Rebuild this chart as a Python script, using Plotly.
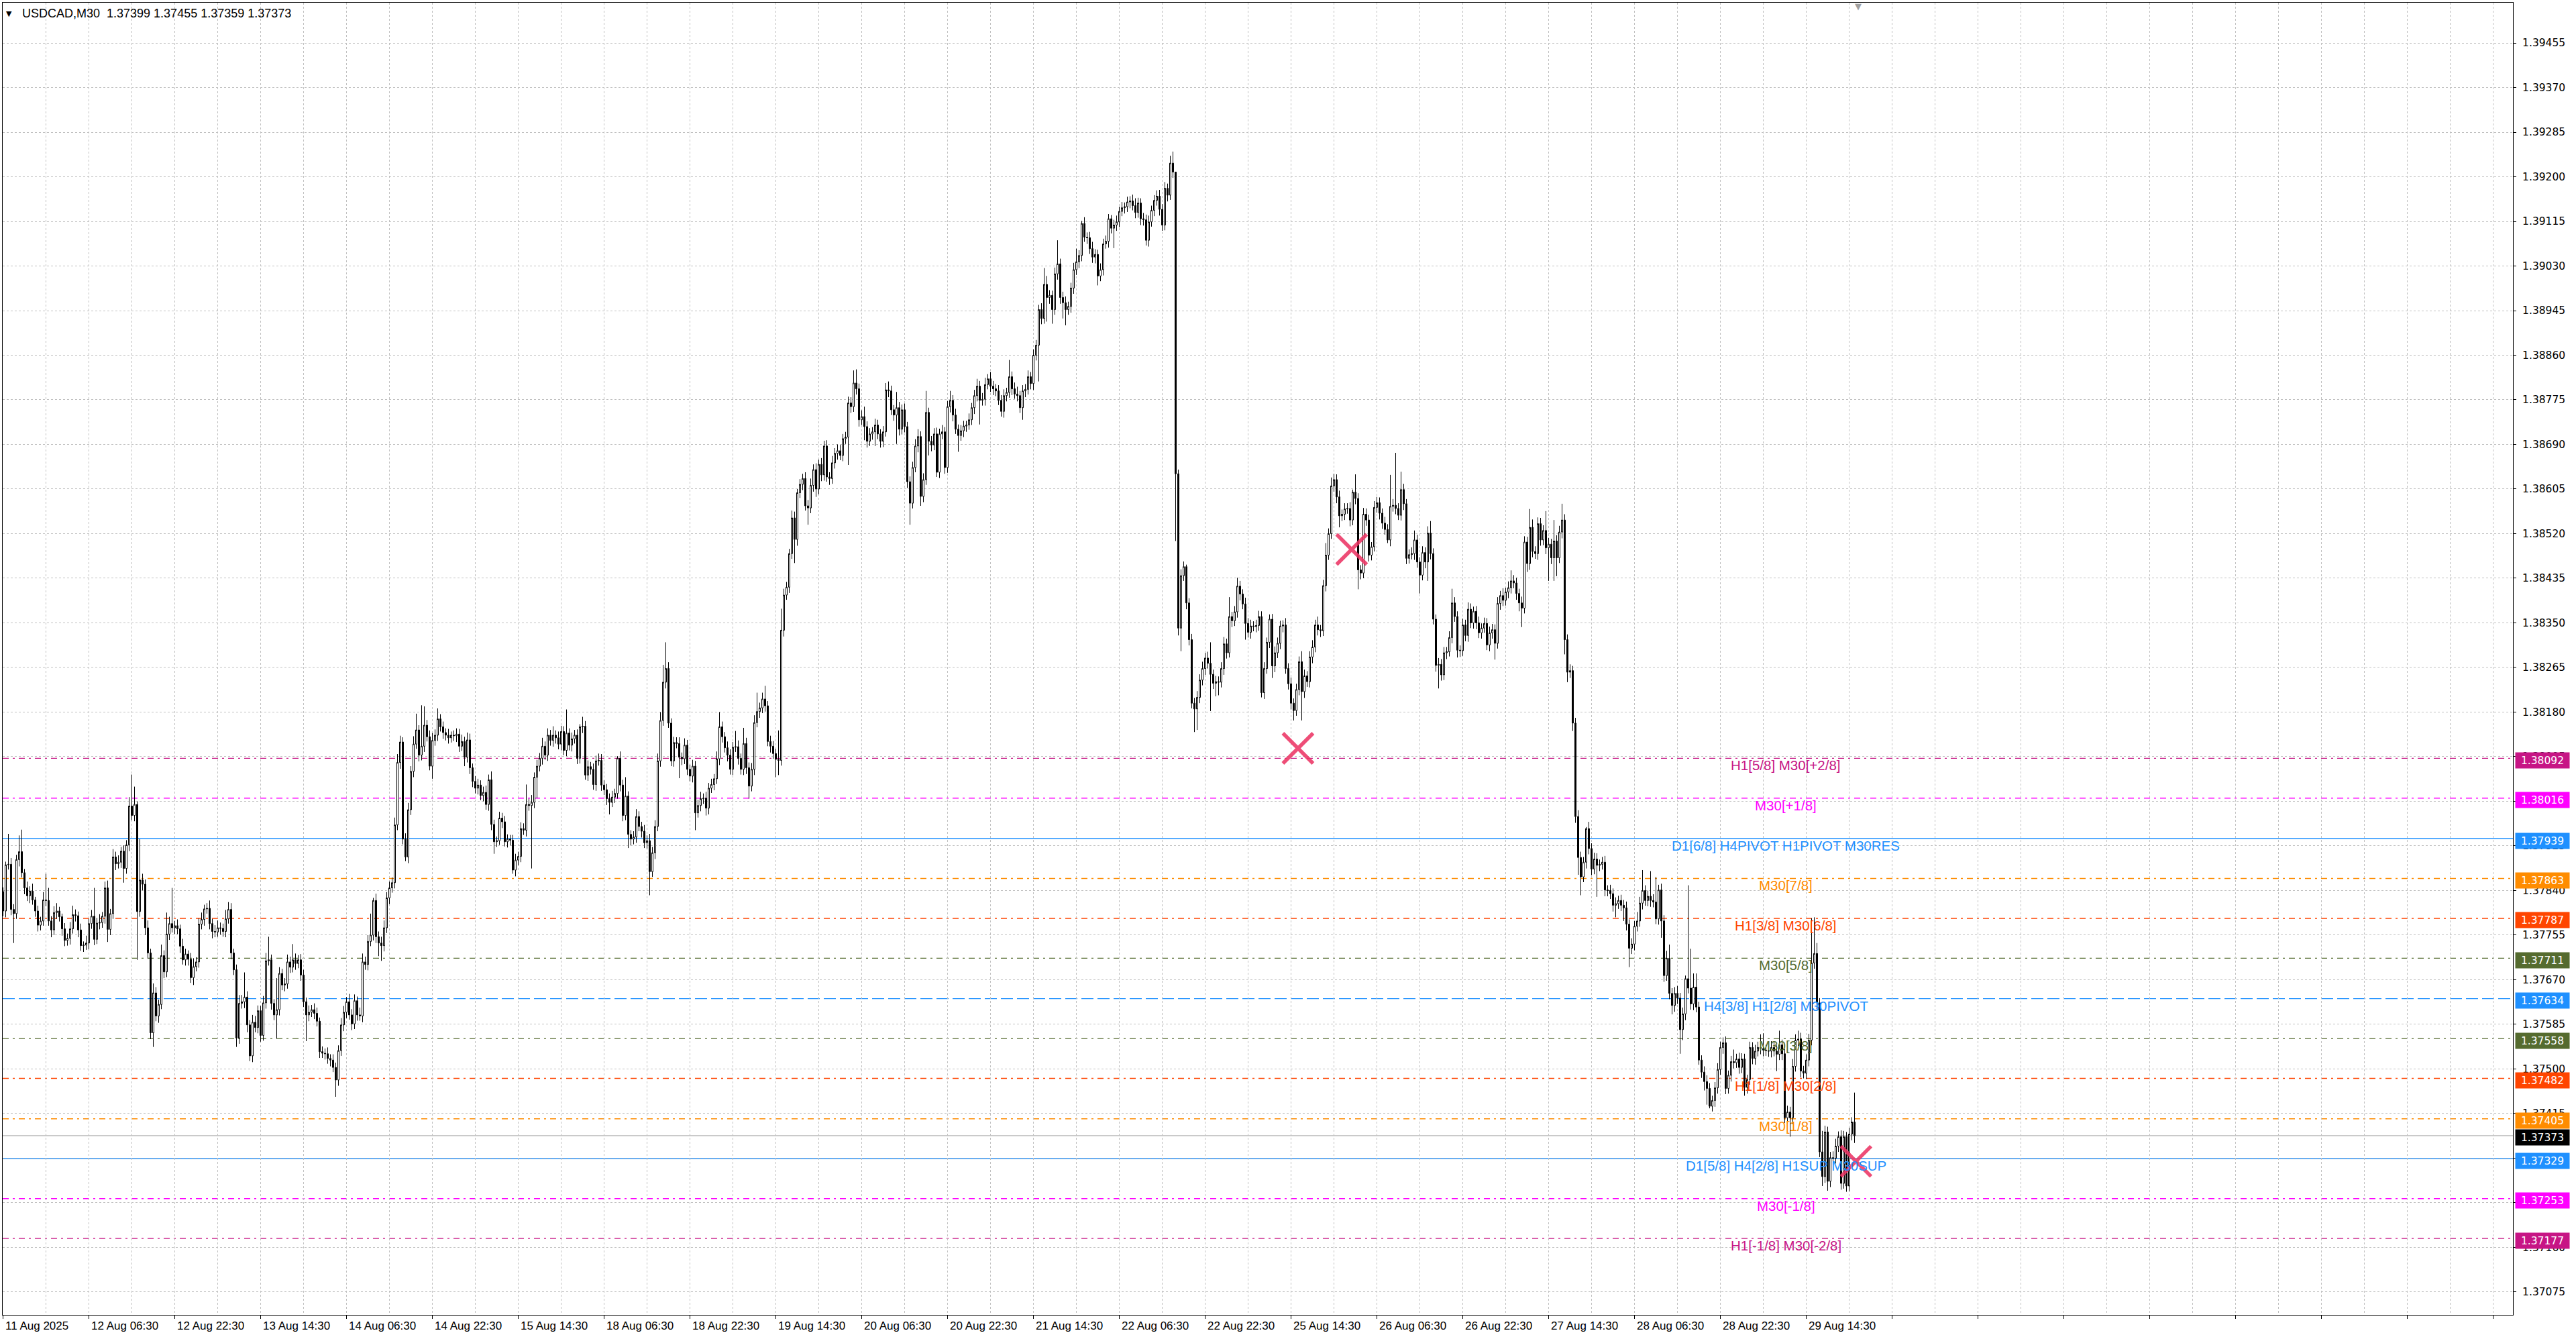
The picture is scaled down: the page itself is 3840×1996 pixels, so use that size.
import plotly.graph_objects as go

# ---------------- data ----------------
first_open = 1.37838

closes = [
    1.37801, 1.37889, 1.37890, 1.37804, 1.37796, 1.37899, 1.37914, 1.37874, 1.37845, 1.37830, 1.37839, 1.37822, 1.37801, 1.37774, 1.37782, 1.37822,
    1.37821, 1.37782, 1.37765, 1.37798, 1.37801, 1.37790, 1.37767, 1.37745, 1.37749, 1.37767, 1.37794, 1.37792, 1.37765, 1.37735, 1.37736, 1.37740,
    1.37777, 1.37791, 1.37747, 1.37778, 1.37779, 1.37791, 1.37845, 1.37766, 1.37796, 1.37904, 1.37891, 1.37894, 1.37915, 1.37882, 1.37927, 1.38001,
    1.37983, 1.38004, 1.37800, 1.37860, 1.37852, 1.37769, 1.37721, 1.37569, 1.37645, 1.37601, 1.37623, 1.37716, 1.37685, 1.37757, 1.37777, 1.37769,
    1.37773, 1.37767, 1.37734, 1.37708, 1.37719, 1.37709, 1.37674, 1.37695, 1.37704, 1.37776, 1.37785, 1.37805, 1.37806, 1.37777, 1.37762, 1.37761,
    1.37769, 1.37768, 1.37762, 1.37786, 1.37804, 1.37721, 1.37689, 1.37559, 1.37625, 1.37628, 1.37637, 1.37584, 1.37525, 1.37589, 1.37579, 1.37611,
    1.37564, 1.37626, 1.37706, 1.37708, 1.37625, 1.37603, 1.37613, 1.37682, 1.37660, 1.37662, 1.37704, 1.37694, 1.37708, 1.37701, 1.37708, 1.37679,
    1.37628, 1.37603, 1.37608, 1.37613, 1.37606, 1.37591, 1.37533, 1.37530, 1.37529, 1.37520, 1.37517, 1.37503, 1.37479, 1.37535, 1.37584, 1.37608,
    1.37628, 1.37603, 1.37586, 1.37630, 1.37603, 1.37601, 1.37704, 1.37699, 1.37743, 1.37755, 1.37821, 1.37752, 1.37740, 1.37735, 1.37769, 1.37826,
    1.37845, 1.37855, 1.37965, 1.38084, 1.38123, 1.37938, 1.37904, 1.37994, 1.38067, 1.38119, 1.38146, 1.38098, 1.38115, 1.38155, 1.38133, 1.38077,
    1.38126, 1.38136, 1.38167, 1.38152, 1.38141, 1.38136, 1.38131, 1.38136, 1.38135, 1.38138, 1.38115, 1.38124, 1.38094, 1.38127, 1.38074, 1.38048,
    1.38035, 1.38041, 1.38021, 1.38027, 1.38004, 1.38051, 1.37966, 1.37933, 1.37935, 1.37978, 1.37971, 1.37933, 1.37938, 1.37936, 1.37879, 1.37898,
    1.37905, 1.37958, 1.37955, 1.38004, 1.38002, 1.38008, 1.38056, 1.38077, 1.38092, 1.38115, 1.38098, 1.38136, 1.38126, 1.38136, 1.38131, 1.38119,
    1.38143, 1.38107, 1.38140, 1.38117, 1.38129, 1.38136, 1.38092, 1.38152, 1.38153, 1.38060, 1.38076, 1.38071, 1.38042, 1.38087, 1.38088, 1.38041,
    1.38032, 1.38015, 1.38008, 1.38018, 1.38025, 1.38092, 1.38041, 1.37983, 1.38020, 1.37947, 1.37938, 1.37942, 1.37981, 1.37962, 1.37953, 1.37931,
    1.37935, 1.37876, 1.37912, 1.37962, 1.38087, 1.38164, 1.38237, 1.38263, 1.38159, 1.38087, 1.38122, 1.38120, 1.38094, 1.38091, 1.38117, 1.38071,
    1.38058, 1.38077, 1.37988, 1.38002, 1.38015, 1.38016, 1.37997, 1.38035, 1.38042, 1.38053, 1.38091, 1.38152, 1.38133, 1.38112, 1.38098, 1.38071,
    1.38113, 1.38114, 1.38092, 1.38071, 1.38120, 1.38074, 1.38039, 1.38071, 1.38160, 1.38181, 1.38188, 1.38205, 1.38192, 1.38124, 1.38115, 1.38101,
    1.38090, 1.38088, 1.38336, 1.38403, 1.38418, 1.38482, 1.38550, 1.38509, 1.38598, 1.38614, 1.38625, 1.38573, 1.38569, 1.38612, 1.38642, 1.38605,
    1.38652, 1.38632, 1.38687, 1.38628, 1.38625, 1.38655, 1.38673, 1.38678, 1.38669, 1.38701, 1.38704, 1.38769, 1.38762, 1.38807, 1.38796, 1.38737,
    1.38743, 1.38724, 1.38696, 1.38710, 1.38714, 1.38727, 1.38710, 1.38696, 1.38714, 1.38794, 1.38792, 1.38756, 1.38746, 1.38760, 1.38719, 1.38756,
    1.38724, 1.38619, 1.38578, 1.38646, 1.38687, 1.38705, 1.38591, 1.38623, 1.38751, 1.38696, 1.38689, 1.38710, 1.38637, 1.38710, 1.38714, 1.38646,
    1.38762, 1.38774, 1.38746, 1.38719, 1.38707, 1.38716, 1.38725, 1.38727, 1.38737, 1.38760, 1.38783, 1.38801, 1.38774, 1.38776, 1.38804, 1.38815,
    1.38801, 1.38796, 1.38792, 1.38774, 1.38753, 1.38783, 1.38789, 1.38819, 1.38796, 1.38786, 1.38783, 1.38760, 1.38792, 1.38795, 1.38819, 1.38806,
    1.38860, 1.38879, 1.38947, 1.38930, 1.38995, 1.38970, 1.38974, 1.38947, 1.39015, 1.39034, 1.38970, 1.38960, 1.38947, 1.38953, 1.38988, 1.39023,
    1.39038, 1.39050, 1.39111, 1.39085, 1.39084, 1.39063, 1.39047, 1.39052, 1.39011, 1.39023, 1.39072, 1.39077, 1.39120, 1.39102, 1.39108, 1.39114,
    1.39134, 1.39141, 1.39143, 1.39152, 1.39154, 1.39145, 1.39132, 1.39150, 1.39120, 1.39118, 1.39079, 1.39114, 1.39136, 1.39155, 1.39163, 1.39138,
    1.39108, 1.39178, 1.39165, 1.39226, 1.39209, 1.38634, 1.38340, 1.38440, 1.38457, 1.38388, 1.38318, 1.38197, 1.38186, 1.38208, 1.38241, 1.38263,
    1.38283, 1.38273, 1.38252, 1.38235, 1.38238, 1.38237, 1.38263, 1.38310, 1.38293, 1.38362, 1.38354, 1.38371, 1.38420, 1.38405, 1.38386, 1.38349,
    1.38332, 1.38344, 1.38343, 1.38345, 1.38362, 1.38217, 1.38263, 1.38313, 1.38357, 1.38268, 1.38293, 1.38311, 1.38344, 1.38346, 1.38263, 1.38234,
    1.38197, 1.38183, 1.38223, 1.38276, 1.38219, 1.38249, 1.38238, 1.38285, 1.38304, 1.38346, 1.38337, 1.38335, 1.38421, 1.38479, 1.38520, 1.38611,
    1.38623, 1.38590, 1.38554, 1.38557, 1.38567, 1.38568, 1.38546, 1.38599, 1.38587, 1.38451, 1.38445, 1.38557, 1.38546, 1.38479, 1.38495, 1.38570,
    1.38579, 1.38559, 1.38540, 1.38528, 1.38508, 1.38572, 1.38574, 1.38568, 1.38555, 1.38604, 1.38577, 1.38473, 1.38480, 1.38482, 1.38508, 1.38466,
    1.38441, 1.38484, 1.38466, 1.38521, 1.38482, 1.38357, 1.38269, 1.38271, 1.38251, 1.38293, 1.38295, 1.38322, 1.38388, 1.38362, 1.38298, 1.38297,
    1.38346, 1.38326, 1.38376, 1.38350, 1.38372, 1.38350, 1.38331, 1.38340, 1.38349, 1.38308, 1.38331, 1.38337, 1.38311, 1.38387, 1.38402, 1.38393,
    1.38409, 1.38417, 1.38430, 1.38426, 1.38406, 1.38388, 1.38378, 1.38504, 1.38463, 1.38532, 1.38486, 1.38482, 1.38539, 1.38508, 1.38526, 1.38493,
    1.38500, 1.38474, 1.38506, 1.38474, 1.38523, 1.38546, 1.38318, 1.38256, 1.38259, 1.38159, 1.37981, 1.37903, 1.37866, 1.37894, 1.37958, 1.37920,
    1.37881, 1.37900, 1.37888, 1.37890, 1.37894, 1.37841, 1.37840, 1.37834, 1.37812, 1.37815, 1.37821, 1.37812, 1.37807, 1.37776, 1.37730, 1.37738,
    1.37772, 1.37782, 1.37816, 1.37840, 1.37821, 1.37829, 1.37821, 1.37818, 1.37786, 1.37841, 1.37782, 1.37678, 1.37711, 1.37644, 1.37621, 1.37644,
    1.37635, 1.37575, 1.37605, 1.37672, 1.37654, 1.37624, 1.37656, 1.37618, 1.37517, 1.37494, 1.37476, 1.37463, 1.37429, 1.37440, 1.37464, 1.37499,
    1.37541, 1.37550, 1.37463, 1.37488, 1.37514, 1.37512, 1.37519, 1.37503, 1.37519, 1.37465, 1.37480, 1.37541, 1.37520, 1.37534, 1.37541, 1.37539,
    1.37536, 1.37535, 1.37534, 1.37541, 1.37534, 1.37528, 1.37546, 1.37529, 1.37407, 1.37418, 1.37407, 1.37505, 1.37555, 1.37557, 1.37496, 1.37492,
    1.37517, 1.37555, 1.37702, 1.37720, 1.37626, 1.37342, 1.37295, 1.37380, 1.37286, 1.37331, 1.37330, 1.37353, 1.37371, 1.37282, 1.37371, 1.37277,
    1.37376, 1.37399, 1.37373,
]

# wick lengths read per bar, in points (0.00001)
upper_wick_pts = [
    8, 6, 58, 12, 10, 9, 31, 42, 7, 12, 9, 14, 6, 10, 8, 15,
    50, 24, 9, 12, 15, 8, 6, 11, 9, 13, 17, 10, 8, 12, 7, 14,
    9, 12, 54, 10, 16, 8, 12, 14, 9, 15, 10, 13, 8, 11, 9, 17,
    60, 34, 6, 78, 12, 9, 14, 8, 18, 11, 9, 21, 10, 41, 13, 68,
    9, 12, 8, 14, 10, 7, 12, 16, 9, 11, 13, 8, 10, 15, 9, 12,
    14, 10, 9, 17, 14, 12, 8, 10, 16, 13, 47, 11, 9, 14, 12, 10,
    9, 13, 15, 44, 10, 8, 60, 12, 9, 11, 14, 10, 30, 12, 9, 11,
    10, 8, 13, 9, 12, 11, 7, 10, 9, 12, 8, 11, 9, 10, 13, 12,
    9, 15, 11, 12, 8, 14, 16, 10, 12, 41, 5, 13, 10, 12, 14, 11,
    12, 10, 14, 16, 12, 9, 11, 13, 10, 15, 31, 9, 78, 36, 10, 12,
    14, 11, 20, 9, 10, 8, 12, 7, 9, 11, 10, 13, 9, 14, 12, 8,
    10, 12, 9, 11, 13, 10, 16, 9, 8, 12, 10, 11, 9, 8, 10, 12,
    9, 12, 10, 38, 11, 14, 9, 12, 10, 16, 9, 13, 10, 17, 9, 12,
    11, 10, 45, 9, 12, 10, 11, 5, 18, 10, 12, 9, 11, 10, 13, 12,
    9, 11, 10, 12, 9, 4, 13, 10, 36, 9, 8, 11, 14, 10, 9, 12,
    10, 13, 11, 12, 14, 16, 33, 50, 12, 9, 11, 10, 12, 9, 13, 10,
    9, 12, 10, 11, 13, 9, 12, 10, 11, 9, 14, 28, 10, 9, 12, 11,
    10, 30, 12, 9, 30, 11, 10, 12, 14, 36, 10, 12, 25, 9, 11, 10,
    9, 55, 41, 12, 10, 9, 14, 12, 7, 10, 9, 12, 11, 13, 10, 12,
    9, 12, 10, 11, 9, 13, 10, 12, 11, 9, 10, 12, 11, 24, 26, 10,
    12, 19, 10, 11, 9, 12, 10, 9, 11, 13, 16, 10, 9, 30, 11, 10,
    12, 9, 10, 11, 13, 14, 10, 12, 41, 9, 10, 11, 12, 10, 13, 9,
    11, 18, 10, 12, 9, 11, 10, 8, 12, 9, 11, 14, 10, 12, 13, 9,
    13, 10, 9, 11, 10, 12, 9, 32, 10, 12, 14, 9, 11, 10, 12, 9,
    11, 10, 9, 12, 31, 16, 10, 9, 12, 45, 10, 11, 12, 9, 10, 13,
    25, 10, 5, 12, 9, 11, 13, 10, 9, 12, 10, 11, 9, 7, 10, 12,
    9, 11, 8, 10, 9, 12, 14, 10, 9, 11, 10, 12, 9, 10, 11, 12,
    10, 12, 9, 14, 22, 0, 8, 12, 10, 4, 9, 11, 10, 12, 11, 13,
    10, 12, 40, 9, 11, 10, 12, 13, 10, 37, 9, 11, 16, 10, 9, 12,
    10, 12, 9, 11, 11, 10, 12, 9, 9, 10, 12, 11, 10, 9, 13, 10,
    12, 9, 11, 10, 20, 12, 9, 11, 13, 10, 16, 9, 11, 23, 10, 16,
    11, 10, 12, 9, 11, 10, 12, 5, 34, 10, 9, 12, 11, 10, 9, 12,
    11, 10, 9, 12, 10, 60, 12, 100, 10, 34, 11, 9, 10, 12, 18, 10,
    9, 12, 10, 13, 23, 10, 9, 12, 10, 11, 9, 12, 27, 11, 10, 9,
    12, 10, 13, 11, 9, 10, 12, 9, 11, 10, 12, 11, 10, 12, 9, 14,
    8, 12, 20, 11, 10, 9, 12, 11, 10, 35, 15, 10, 12, 11, 10, 37,
    12, 10, 40, 11, 12, 31, 11, 10, 12, 9, 10, 12, 11, 10, 3, 13,
    10, 12, 11, 9, 10, 12, 9, 11, 10, 12, 9, 11, 10, 12, 9, 11,
    10, 17, 12, 39, 10, 11, 48, 12, 48, 10, 12, 11, 14, 26, 10, 12,
    14, 10, 12, 6, 178, 75, 26, 26, 10, 9, 11, 12, 10, 9, 11, 12,
    11, 10, 12, 9, 11, 23, 10, 12, 11, 10, 9, 11, 10, 12, 11, 25,
    29, 10, 9, 12, 10, 11, 27, 10, 9, 12, 10, 14, 11, 16, 12, 10,
    11, 12, 85, 69, 20, 9, 40, 12, 10, 11, 12, 14, 10, 12, 11, 9,
    12, 9, 56,
]

lower_wick_pts = [
    10, 12, 9, 11, 56, 10, 13, 9, 12, 10, 14, 9, 11, 12, 10, 9,
    11, 9, 14, 10, 12, 9, 13, 11, 10, 12, 9, 11, 14, 10, 12, 9,
    12, 10, 11, 9, 12, 10, 14, 24, 11, 10, 12, 9, 11, 27, 10, 12,
    9, 11, 92, 10, 12, 14, 11, 12, 27, 10, 13, 9, 12, 10, 11, 9,
    12, 10, 13, 9, 11, 12, 10, 14, 9, 11, 10, 12, 9, 11, 13, 10,
    9, 12, 10, 11, 9, 12, 10, 17, 11, 10, 12, 14, 10, 12, 9, 11,
    12, 10, 11, 9, 12, 10, 45, 11, 10, 12, 9, 11, 10, 12, 9, 11,
    10, 50, 12, 9, 11, 10, 12, 9, 11, 10, 12, 9, 32, 11, 10, 12,
    11, 9, 12, 10, 11, 9, 12, 10, 11, 9, 10, 12, 25, 29, 11, 10,
    12, 9, 11, 10, 12, 10, 8, 12, 10, 11, 9, 12, 10, 11, 9, 8,
    24, 10, 11, 9, 12, 10, 11, 9, 10, 12, 11, 9, 17, 10, 12, 11,
    10, 12, 9, 11, 10, 12, 11, 23, 10, 8, 12, 9, 11, 10, 7, 12,
    10, 11, 9, 12, 10, 120, 11, 40, 10, 12, 9, 11, 10, 12, 11, 10,
    12, 9, 11, 10, 12, 9, 11, 10, 12, 9, 11, 10, 10, 12, 9, 11,
    10, 12, 23, 9, 11, 10, 12, 11, 9, 26, 12, 10, 11, 9, 12, 10,
    11, 45, 10, 12, 9, 11, 10, 12, 9, 10, 11, 9, 40, 12, 10, 11,
    10, 12, 33, 9, 11, 10, 14, 12, 9, 11, 10, 12, 11, 9, 12, 10,
    11, 9, 12, 10, 11, 12, 24, 10, 11, 9, 12, 10, 11, 9, 12, 10,
    34, 28, 10, 12, 9, 11, 10, 45, 12, 10, 11, 9, 32, 10, 12, 15,
    10, 12, 11, 9, 12, 10, 11, 12, 9, 11, 10, 53, 12, 10, 11, 13,
    10, 26, 12, 9, 11, 27, 10, 12, 11, 9, 12, 10, 11, 55, 12, 10,
    11, 12, 41, 10, 9, 12, 18, 11, 10, 27, 12, 10, 9, 11, 10, 12,
    10, 11, 12, 9, 31, 10, 12, 11, 9, 10, 12, 11, 46, 10, 12, 9,
    11, 12, 10, 9, 10, 12, 11, 10, 12, 9, 11, 10, 23, 12, 10, 11,
    12, 10, 69, 11, 10, 46, 12, 27, 10, 11, 12, 30, 30, 10, 12, 11,
    10, 12, 11, 9, 12, 10, 11, 12, 18, 10, 11, 9, 12, 10, 38, 11,
    10, 9, 11, 10, 12, 9, 11, 10, 12, 11, 10, 12, 9, 11, 10, 12,
    11, 10, 12, 9, 11, 128, 14, 44, 10, 12, 11, 10, 44, 40, 11, 10,
    12, 10, 70, 11, 25, 25, 10, 12, 11, 9, 12, 10, 11, 12, 10, 31,
    10, 12, 9, 11, 10, 9, 12, 10, 11, 23, 12, 10, 11, 12, 10, 11,
    12, 19, 10, 11, 55, 12, 10, 11, 12, 10, 11, 12, 10, 11, 9, 10,
    11, 12, 22, 10, 11, 9, 12, 10, 11, 37, 12, 10, 11, 12, 10, 9,
    10, 12, 11, 10, 6, 12, 10, 11, 9, 10, 12, 11, 10, 9, 12, 11,
    35, 10, 12, 36, 11, 10, 12, 44, 11, 10, 12, 9, 11, 10, 14, 12,
    10, 11, 12, 10, 11, 12, 10, 11, 9, 10, 12, 11, 31, 10, 12, 11,
    10, 12, 11, 10, 12, 16, 36, 10, 16, 12, 11, 10, 12, 11, 10, 12,
    63, 12, 44, 35, 10, 12, 28, 19, 11, 15, 12, 33, 35, 10, 12, 11,
    12, 10, 60, 11, 10, 12, 11, 10, 12, 23, 10, 11, 25, 12, 36, 11,
    12, 10, 11, 12, 10, 11, 12, 10, 10, 11, 32, 12, 10, 11, 17, 12,
    11, 46, 20, 12, 10, 11, 12, 10, 9, 11, 17, 31, 4, 10, 12, 11,
    10, 12, 11, 10, 12, 11, 10, 12, 11, 16, 12, 10, 11, 12, 10, 11,
    12, 10, 11, 12, 10, 32, 11, 12, 10, 11, 36, 12, 10, 11, 12, 10,
    11, 12, 10, 11, 12, 10, 18, 12, 18, 11, 12, 10, 11, 12, 10, 11,
    10, 12, 14,
]

time_labels = [
    "11 Aug 2025", "12 Aug 06:30", "12 Aug 22:30", "13 Aug 14:30", "14 Aug 06:30",
    "14 Aug 22:30", "15 Aug 14:30", "18 Aug 06:30", "18 Aug 22:30", "19 Aug 14:30",
    "20 Aug 06:30", "20 Aug 22:30", "21 Aug 14:30", "22 Aug 06:30", "22 Aug 22:30",
    "25 Aug 14:30", "26 Aug 06:30", "26 Aug 22:30", "27 Aug 14:30", "28 Aug 06:30",
    "28 Aug 22:30", "29 Aug 14:30",
]
time_label_bars = [0, 32, 64, 96, 128, 160, 192, 224, 256, 288, 320, 352, 384, 416,
                   448, 480, 512, 544, 576, 608, 640, 672]

level_prices = [1.38092, 1.38016, 1.37939, 1.37863, 1.37787, 1.37711, 1.37634,
                1.37558, 1.37482, 1.37405, 1.37329, 1.37253, 1.37177]
level_names = ["H1[5/8] M30[+2/8]", "M30[+1/8]", "D1[6/8] H4PIVOT H1PIVOT M30RES",
               "M30[7/8]", "H1[3/8] M30[6/8]", "M30[5/8]", "H4[3/8] H1[2/8] M30PIVOT",
               "M30[3/8]", "H1[1/8] M30[2/8]", "M30[1/8]", "D1[5/8] H4[2/8] H1SUP M30SUP",
               "M30[-1/8]", "H1[-1/8] M30[-2/8]"]
bid_price = 1.37373
header_symbol = "USDCAD,M30"
header_ohlc = ["1.37399", "1.37455", "1.37359", "1.37373"]

cross_bars = [482.6, 502.6, 690.55]
cross_prices = [1.38111, 1.38490, 1.37324]

# ---------------- styles ----------------
level_colors = ["#C71585", "#FF00FF", "#1E90FF", "#FF8C00", "#FF4500", "#556B2F", "#1E90FF",
                "#556B2F", "#FF4500", "#FF8C00", "#1E90FF", "#FF00FF", "#C71585"]
DASHDOT = "9px,6px,3px,6px"
DASH = "18px,6px"
level_dashes = [DASHDOT, DASHDOT, "solid", DASHDOT, DASHDOT, DASHDOT, DASH,
                DASHDOT, DASHDOT, DASHDOT, "solid", DASHDOT, DASHDOT]
GRID = "#C0C0C0"
LEVEL_TEXT_BAR = 664.4
AXIS_FONT = dict(family="DejaVu Sans, Verdana, sans-serif", size=15.5, color="black")

n = len(closes)
assert len(upper_wick_pts) == n and len(lower_wick_pts) == n, (n, len(upper_wick_pts), len(lower_wick_pts))

opens = [first_open] + closes[:-1]
highs = [max(o, c) + w * 1e-5 for o, c, w in zip(opens, closes, upper_wick_pts)]
lows = [min(o, c) - w * 1e-5 for o, c, w in zip(opens, closes, lower_wick_pts)]
bars = list(range(n))

fig = go.Figure()
fig.add_trace(go.Candlestick(
    x=bars, open=opens, high=highs, low=lows, close=closes,
    increasing=dict(fillcolor="white", line=dict(color="black", width=1)),
    decreasing=dict(fillcolor="black", line=dict(color="black", width=1)),
    whiskerwidth=0, hoverinfo="skip", showlegend=False,
))

fig.add_trace(go.Scatter(
    x=cross_bars, y=cross_prices, mode="markers", hoverinfo="skip", showlegend=False,
    marker=dict(symbol="x-thin", size=45, color="rgba(236,52,100,0.88)",
                line=dict(width=5.5, color="rgba(236,52,100,0.88)")),
))

shapes = []
for p, col, d in zip(level_prices, level_colors, level_dashes):
    shapes.append(dict(type="line", xref="paper", x0=0, x1=1, yref="y", y0=p, y1=p,
                       layer="between", line=dict(color=col, width=1.4, dash=d)))
shapes.append(dict(type="line", xref="paper", x0=0, x1=1, yref="y", y0=bid_price, y1=bid_price,
                   layer="between", line=dict(color="#B4B4B4", width=1.2)))

annotations = []
# level names on the chart
for p, name, col in zip(level_prices, level_names, level_colors):
    annotations.append(dict(x=LEVEL_TEXT_BAR, y=p, xref="x", yref="y", text=name, showarrow=False,
                            xanchor="center", yanchor="top", yshift=3,
                            font=dict(family="Liberation Sans, Arial, sans-serif", size=20.5, color=col)))
# price boxes on the right scale
for p, col in list(zip(level_prices, level_colors)) + [(bid_price, "#000000")]:
    annotations.append(dict(x=1, y=p, xref="paper", yref="y", text=f"{p:.5f}", showarrow=False,
                            xanchor="left", yanchor="middle", xshift=3, yshift=-3, width=78, height=21,
                            bgcolor=col, borderpad=1,
                            font=dict(family=AXIS_FONT["family"], size=15.5, color="white")))
# time labels
for b, lab in zip(time_label_bars, time_labels):
    annotations.append(dict(x=b, y=0, xref="x", yref="paper", text=lab, showarrow=False,
                            xanchor="left", yanchor="top", xshift=1, yshift=-5,
                            font=dict(family="Liberation Sans, Arial, sans-serif", size=17, color="black")))
# header
annotations.append(dict(x=0, y=1, xref="paper", yref="paper", text="\u25BC", showarrow=False,
                        xanchor="left", yanchor="top", xshift=3, yshift=-8,
                        font=dict(family="DejaVu Sans", size=11, color="black")))
annotations.append(dict(x=0, y=1, xref="paper", yref="paper",
                        text=header_symbol + "\u00a0\u00a0" + " ".join(header_ohlc), showarrow=False,
                        xanchor="left", yanchor="top", xshift=27, yshift=-4,
                        font=dict(family="Liberation Sans, Arial, sans-serif", size=18, color="black")))
# chart shift marker
annotations.append(dict(x=n + 0.4, y=1, xref="x", yref="paper", text="\u25BC", showarrow=False,
                        xanchor="center", yanchor="top", yshift=4,
                        font=dict(family="DejaVu Sans", size=13, color="#A0A0A0")))

fig.update_layout(
    width=3840, height=1996,
    margin=dict(l=4, r=94, t=4, b=36, pad=0),
    paper_bgcolor="white", plot_bgcolor="white",
    boxgap=0.5, boxgroupgap=0,
    shapes=shapes, annotations=annotations,
    showlegend=False,
    xaxis=dict(
        range=[-0.125, 935.375], rangeslider=dict(visible=False),
        tickmode="linear", tick0=0, dtick=32, ticks="outside", ticklen=5, tickcolor="black",
        showticklabels=False, showgrid=True, gridcolor=GRID, gridwidth=1, griddash="dot",
        minor=dict(tickmode="linear", tick0=0, dtick=16, showgrid=True, gridcolor=GRID,
                   gridwidth=1, griddash="dot", ticks=""),
        showline=True, linecolor="black", linewidth=1, mirror=True, zeroline=False,
    ),
    yaxis=dict(
        side="right", range=[1.370315, 1.395317],
        tickmode="linear", tick0=1.39455, dtick=0.00085, tickformat=".5f",
        ticks="outside", ticklen=4, tickcolor="black", ticklabelstandoff=6,
        tickfont=AXIS_FONT,
        showgrid=True, gridcolor=GRID, gridwidth=1, griddash="dot",
        showline=True, linecolor="black", linewidth=1, mirror=True, zeroline=False,
    ),
)

fig.write_html("out.html", config={"displayModeBar": False},
               post_script="document.body.style.margin='0';document.body.style.overflow='hidden';")
